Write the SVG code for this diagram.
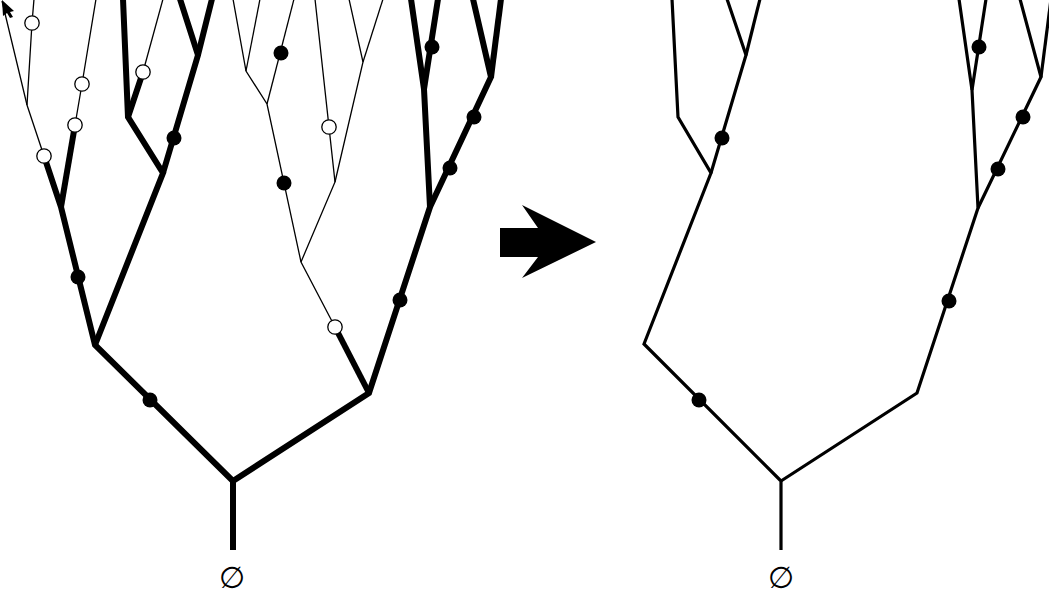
<svg xmlns="http://www.w3.org/2000/svg" width="1049" height="602" viewBox="0 0 1049 602">
<style>
.k{stroke:#000;stroke-width:6;fill:none;stroke-linejoin:miter;stroke-linecap:butt}
.t{stroke:#000;stroke-width:1.3;fill:none}
.m{stroke:#000;stroke-width:3.2;fill:none;stroke-linejoin:miter}
.b{fill:#000}
.o{fill:#fff;stroke:#000;stroke-width:1.3}
.lbl{font-family:"DejaVu Sans",sans-serif;font-size:30px;text-anchor:middle;fill:#000}
</style>
<rect width="1049" height="602" fill="#fff"/>
<g id="connectors">
<!-- left tree thick -->
<polyline class="k" points="233,550 233,481 95,345 61,207 44,156"/>
<polyline class="k" points="95,345 163,173 128,117 123,-1"/>
<polyline class="k" points="163,173 198,55 180,-1"/>
<line class="k" x1="198" y1="55" x2="212" y2="-1"/>
<line class="k" x1="128" y1="117" x2="143" y2="72"/>
<line class="k" x1="61" y1="207" x2="75" y2="125"/>
<polyline class="k" points="233,481 369,393 430,207 424,89 411,-1"/>
<line class="k" x1="369" y1="393" x2="335" y2="327"/>
<polyline class="k" points="430,207 491,77 473,-1"/>
<line class="k" x1="491" y1="77" x2="501" y2="-1"/>
<line class="k" x1="424" y1="89" x2="438" y2="-1"/>
<!-- left tree thin -->
<polyline class="t" points="44,156 27,105 2,1"/>
<polyline class="t" points="27,105 32,23 34,-1"/>
<polyline class="t" points="75,125 82,84 96,-1"/>
<line class="t" x1="143" y1="72" x2="163" y2="-1"/>
<polyline class="t" points="335,327 301,262 267,104 246,71 233,-1"/>
<line class="t" x1="246" y1="71" x2="260" y2="-1"/>
<line class="t" x1="267" y1="104" x2="294" y2="-1"/>
<polyline class="t" points="301,262 335,182 315,-1"/>
<polyline class="t" points="335,182 363,62 349,-1"/>
<line class="t" x1="363" y1="62" x2="383" y2="-1"/>
<!-- right tree -->
<polyline class="m" points="781,550 781,481 644,344 711,173 678,117 672,-1"/>
<polyline class="m" points="711,173 746,55 727,-1"/>
<line class="m" x1="746" y1="55" x2="760" y2="-1"/>
<polyline class="m" points="781,481 917,393 978,208 972,90 959,-1"/>
<line class="m" x1="972" y1="90" x2="986" y2="-1"/>
<polyline class="m" points="978,208 1041,77 1020,-1"/>
<line class="m" x1="1041" y1="77" x2="1051" y2="-1"/>
</g>
<g id="arrow">
<polygon class="b" points="500,228 538,228 522,205 596,242 522,278 538,257 500,257"/>
</g>
<g id="n-l1"><circle class="b" cx="150" cy="400" r="7.5"/></g>
<g id="n-l2"><circle class="b" cx="78" cy="277" r="7.5"/></g>
<g id="n-l3"><circle class="b" cx="174" cy="138" r="7.5"/></g>
<g id="n-l4"><circle class="o" cx="44" cy="156" r="7.2"/></g>
<g id="n-l5"><circle class="o" cx="75" cy="125" r="7.2"/></g>
<g id="n-l6"><circle class="o" cx="82" cy="84" r="7.2"/></g>
<g id="n-l7"><circle class="o" cx="32" cy="23" r="7.2"/></g>
<g id="n-l8"><circle class="o" cx="143" cy="72" r="7.2"/></g>
<g id="n-l9"><circle class="o" cx="335" cy="327" r="7.2"/></g>
<g id="n-l10"><circle class="b" cx="284" cy="183" r="7.5"/></g>
<g id="n-l11"><circle class="b" cx="281" cy="53" r="7.5"/></g>
<g id="n-l12"><circle class="o" cx="329" cy="127" r="7.2"/></g>
<g id="n-l13"><circle class="b" cx="400" cy="300" r="7.5"/></g>
<g id="n-l14"><circle class="b" cx="450" cy="168" r="7.5"/></g>
<g id="n-l15"><circle class="b" cx="474" cy="117" r="7.5"/></g>
<g id="n-l16"><circle class="b" cx="432" cy="47" r="7.5"/></g>
<g id="n-r1"><circle class="b" cx="699" cy="400" r="7.5"/></g>
<g id="n-r2"><circle class="b" cx="722" cy="138" r="7.5"/></g>
<g id="n-r3"><circle class="b" cx="949" cy="301" r="7.5"/></g>
<g id="n-r4"><circle class="b" cx="998" cy="169" r="7.5"/></g>
<g id="n-r5"><circle class="b" cx="1023" cy="117" r="7.5"/></g>
<g id="n-r6"><circle class="b" cx="979" cy="47" r="7.5"/></g>
<g id="root-left"><text class="lbl" x="232" y="588">∅</text></g>
<g id="root-right"><text class="lbl" x="781" y="588">∅</text></g>
<g id="cursor"><polygon class="b" points="2,0 14,11 10,12 13,17 10,18 7,13 3,16"/></g>
</svg>
